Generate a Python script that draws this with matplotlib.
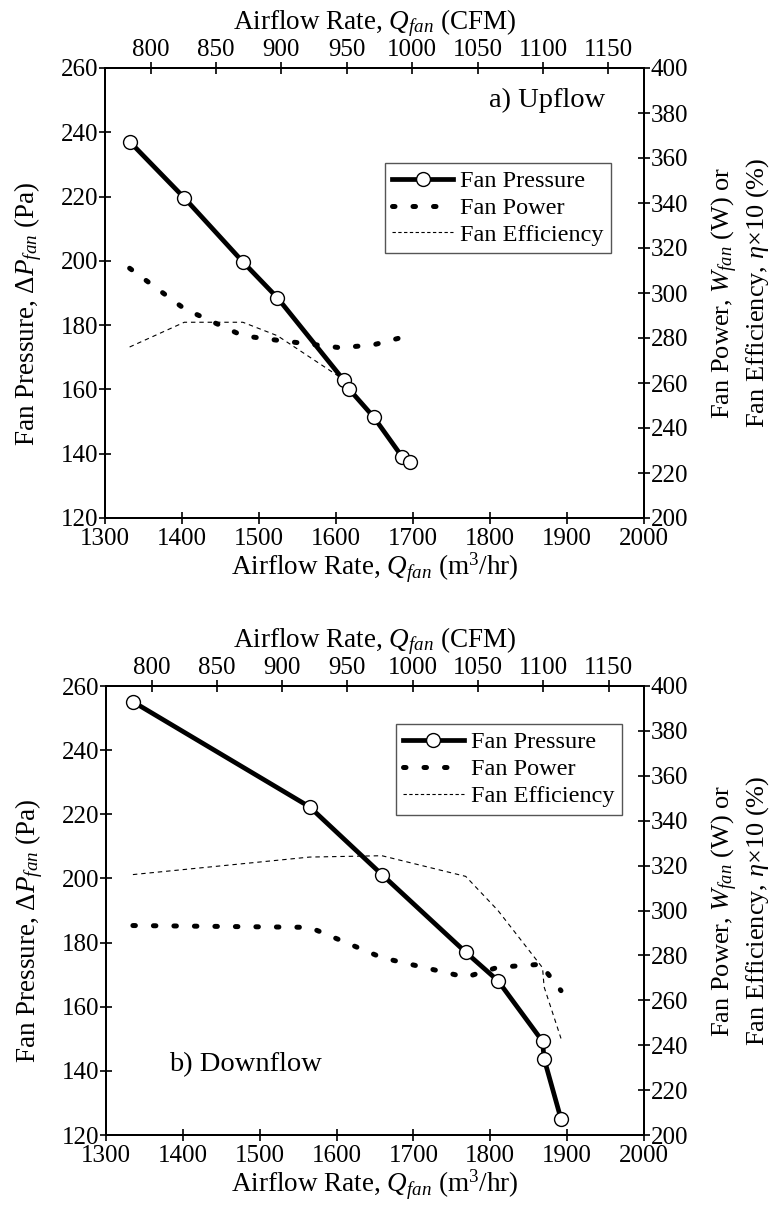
import matplotlib
matplotlib.use("Agg")
import matplotlib.pyplot as plt
from matplotlib.lines import Line2D

plt.rcParams['font.family'] = ['Liberation Serif', 'DejaVu Serif']
plt.rcParams['mathtext.fontset'] = 'custom'
plt.rcParams['mathtext.rm'] = 'Liberation Serif'
plt.rcParams['mathtext.it'] = 'Liberation Serif:italic'
plt.rcParams['mathtext.bf'] = 'Liberation Serif:bold'

# ---------------- data ----------------
# a) Upflow
up_flow = [1332, 1403, 1479, 1524, 1610, 1617, 1649, 1686, 1696]
up_pressure = [237.1, 219.6, 199.7, 188.5, 162.9, 160.1, 151.4, 139.0, 137.4]
up_power = [311, 293, 281, 279, 275.5, 276, 277, 280.3, 283]
up_eff_flow = [1332, 1403, 1479, 1524, 1610]
up_eff_x10 = [276, 287, 287, 281, 261.5]

# b) Downflow
dn_flow = [1335, 1565, 1659, 1768, 1810, 1868, 1870, 1892]
dn_pressure = [255.1, 222.3, 201.2, 177.0, 168.1, 149.2, 143.8, 125.0]
dn_power = [293.3, 292.5, 279, 270.3, 274.7, 276.1, 274, 264.3]
dn_eff_x10 = [316, 323.8, 324.4, 315.2, 300, 274.5, 266, 243]

cfm_ticks = [800, 850, 900, 950, 1000, 1050, 1100, 1150]
m3h_ticks = [1300, 1400, 1500, 1600, 1700, 1800, 1900, 2000]
left_ticks = [120, 140, 160, 180, 200, 220, 240, 260]
right_ticks = [200, 220, 240, 260, 280, 300, 320, 340, 360, 380, 400]

CFM_TO_M3H = 1.69901

TICK_FS = 18
LABEL_FS = 19.5
RLABEL_FS = 19
LEG_FS = 17.5
TITLE_FS = 20.5


def m3h_to_cfm(x):
    return x / CFM_TO_M3H


def cfm_to_m3h(x):
    return x * CFM_TO_M3H


fig = plt.figure(figsize=(7.76, 12.18), dpi=100)

W, H = 776.0, 1218.0


def make_panel(left_px, right_px, top_px, bottom_px, flow, pressure, power,
               eff_flow, eff, title, title_xy, leg_box):
    ax = fig.add_axes([left_px / W, 1 - bottom_px / H,
                       (right_px - left_px) / W, (bottom_px - top_px) / H])
    ax2 = ax.twinx()
    ax.set_zorder(ax2.get_zorder() + 1)
    ax.patch.set_visible(False)

    ax.set_xlim(1300, 2000)
    ax.set_ylim(120, 260)
    ax2.set_ylim(200, 400)
    ax.set_xticks(m3h_ticks)
    ax.set_yticks(left_ticks)
    ax2.set_yticks(right_ticks)

    # fan power (dotted, heavy)
    ax2.plot(flow, power, color='black', lw=3.6,
             linestyle=(0, (0.5, 3.6)), dash_capstyle='round')
    # fan efficiency (thin dashed)
    ax2.plot(eff_flow, eff, color='black', lw=0.8,
             linestyle=(0, (4.0, 3.5)))
    # fan pressure
    ax.plot(flow, pressure, color='black', lw=3.4, marker='o', ms=10,
            mfc='white', mec='black', mew=1.0, zorder=5)

    for a in (ax, ax2):
        for s in a.spines.values():
            s.set_linewidth(1.4)
    ax.tick_params(axis='both', direction='inout', length=8, width=1.2,
                   labelsize=TICK_FS, pad=1)
    ax.tick_params(axis='x', pad=3.5)
    ax2.tick_params(axis='y', direction='inout', length=8, width=1.2,
                    labelsize=TICK_FS, pad=1)

    sec = ax.secondary_xaxis('top', functions=(m3h_to_cfm, cfm_to_m3h))
    sec.set_xticks(cfm_ticks)
    sec.tick_params(direction='inout', length=8, width=1.2,
                    labelsize=TICK_FS, pad=1)
    sec.spines['top'].set_linewidth(1.4)
    sec.set_xlabel('Airflow Rate, $Q_{fan}$ (CFM)', fontsize=LABEL_FS,
                   labelpad=7)

    ax.set_xlabel('Airflow Rate, $Q_{fan}$ (m$^3$/hr)', fontsize=LABEL_FS,
                  labelpad=0)
    ax.set_ylabel('Fan Pressure, $\\Delta P_{fan}$ (Pa)', fontsize=LABEL_FS)
    ax.yaxis.set_label_coords(-0.113, 0.455)
    ax2.set_ylabel('Fan Power, $W_{fan}$ (W) or\nFan Efficiency, $\\eta$\u00d710 (%)',
                   fontsize=RLABEL_FS, linespacing=1.22)
    ax2.yaxis.set_label_coords(1.122, 0.5)

    ax.text(title_xy[0], title_xy[1], title, transform=ax.transAxes,
            fontsize=TITLE_FS, ha='center', va='center')

    handles = [
        Line2D([], [], color='black', lw=3.4, marker='o', ms=10,
               mfc='white', mec='black', mew=1.0),
        Line2D([], [], color='black', lw=3.6, linestyle=(0, (0.5, 3.6)),
               dash_capstyle='round'),
        Line2D([], [], color='black', lw=0.8, linestyle=(0, (3.0, 2.2))),
    ]
    leg = ax.legend(handles, ['Fan Pressure', 'Fan Power', 'Fan Efficiency'],
                    loc='upper right', bbox_to_anchor=leg_box,
                    fontsize=LEG_FS, frameon=True, fancybox=False,
                    framealpha=1, edgecolor='#555555', handlelength=2.5,
                    handletextpad=0.3, labelspacing=0.2, borderpad=0.3,
                    borderaxespad=0)
    leg.get_frame().set_linewidth(1.0)
    return ax


make_panel(105, 644, 68, 518, up_flow, up_pressure, up_power,
           up_eff_flow, up_eff_x10, 'a) Upflow', (0.82, 0.927),
           (0.939, 0.789))
make_panel(106, 644, 686, 1135, dn_flow, dn_pressure, dn_power,
           dn_flow, dn_eff_x10, 'b) Downflow', (0.26, 0.156),
           (0.959, 0.915))

fig.savefig('out.png', dpi=100)
